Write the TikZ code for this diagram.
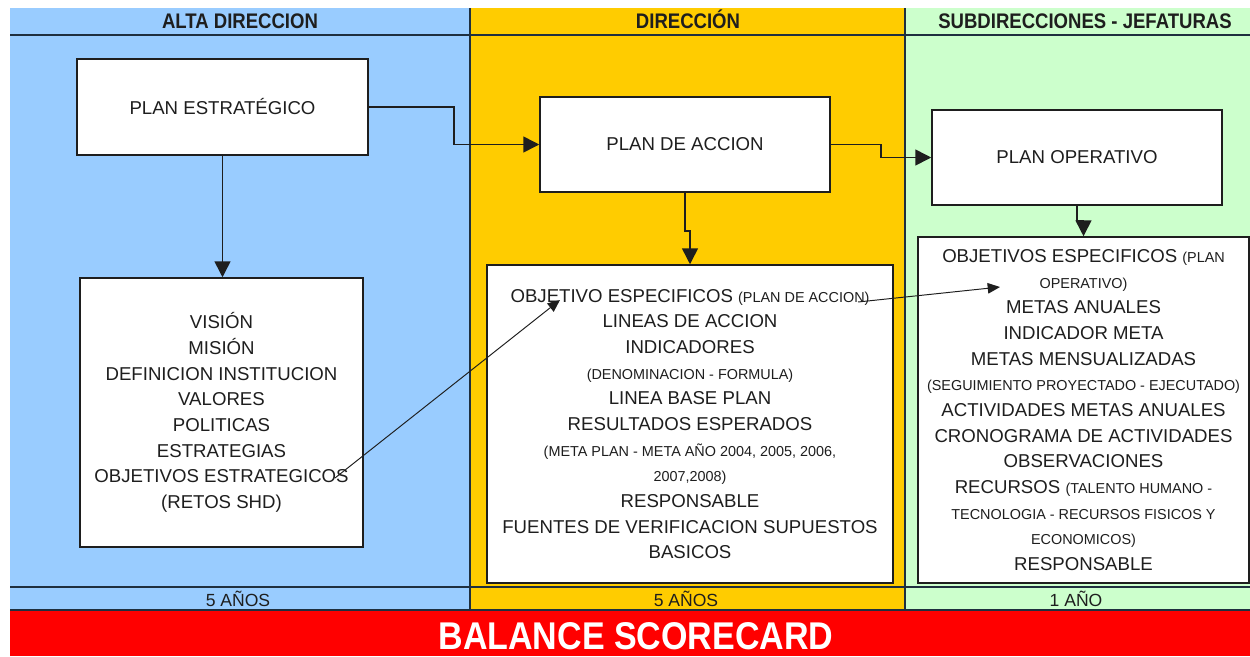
\documentclass[tikz,border=0pt]{standalone}
\usepackage{fontspec}
\setmainfont{Liberation Sans}
\newfontfamily\condfont[FakeStretch=0.88]{Liberation Sans}
\usetikzlibrary{arrows.meta,calc}
\definecolor{colblue}{HTML}{99CCFF}
\definecolor{colyel}{HTML}{FFCC00}
\definecolor{colgrn}{HTML}{CCFFCC}
\definecolor{colred}{HTML}{FF0000}
\definecolor{ink}{HTML}{1E1E1E}
\definecolor{rulecol}{HTML}{1F2F3F}
\newcommand\smtxt[1]{{\fontsize{8.2}{14.6}\selectfont #1}}
\begin{document}
\begin{tikzpicture}[x=0.02cm,y=-0.02cm,
  box/.style={draw=ink, line width=0.9pt, fill=white, align=center, inner sep=0pt,
    font=\fontsize{10.6}{14.6}\selectfont, text=ink},
  arr/.style={draw=ink, line width=0.9pt, -{Triangle[length=9pt,width=9pt]}},
  thinarr/.style={draw=ink, line width=0.55pt, -{Triangle[length=7pt,width=6pt]}},
  head/.style={font=\condfont\bfseries\fontsize{12}{14}\selectfont, text=ink, anchor=base, inner sep=0pt},
  foot/.style={font=\fontsize{10}{12}\selectfont, text=ink, anchor=base, inner sep=0pt},
  sep/.style={draw=rulecol}]
\useasboundingbox (0,0) rectangle (1250,656);
\fill[white] (0,0) rectangle (1250,656);
% columns
\fill[colblue] (10,8) rectangle (470,610);
\fill[colyel] (470,8) rectangle (905,610);
\fill[colgrn] (905,8) rectangle (1250,610);
\fill[colred] (10,610) rectangle (1250,656);
\draw[sep, line width=1.2pt] (10,35) -- (1250,35);
\draw[sep, line width=1.2pt] (10,587) -- (1250,587);
\draw[sep, line width=1pt] (10,610) -- (1250,610);
\draw[sep, line width=0.8pt] (470,8) -- (470,610);
\draw[sep, line width=0.8pt] (905,8) -- (905,610);
% headers
\node[head] (h1) at (240,28) {ALTA DIRECCION};
\node[head] (h2) at (688,28) {DIRECCIÓN};
\node[head] (h3) at (1085,28) {SUBDIRECCIONES - JEFATURAS};
% footers
\node[foot] (f1) at (238,606) {5 AÑOS};
\node[foot] (f2) at (686,606) {5 AÑOS};
\node[foot] (f3) at (1076,606) {1 AÑO};
\node[font=\condfont\bfseries\fontsize{22}{24}\selectfont, text=white] (bsc) at (636,636) {BALANCE SCORECARD};
% boxes
\node[box, minimum width=5.82cm, minimum height=1.92cm] (pe) at (222.5,107) {PLAN ESTRATÉGICO};
\node[box, minimum width=5.8cm, minimum height=1.9cm] (pa) at (685,144.5) {PLAN DE ACCION};
\node[box, minimum width=5.8cm, minimum height=1.9cm] (po) at (1077,157.5) {PLAN OPERATIVO};
\node[box, minimum width=5.66cm, minimum height=5.38cm] (lb) at (221.5,412.5) {VISIÓN\\MISIÓN\\DEFINICION INSTITUCION\\VALORES\\POLITICAS\\ESTRATEGIAS\\OBJETIVOS ESTRATEGICOS\\(RETOS SHD)};
\node[box, minimum width=8.12cm, minimum height=6.36cm] (mb) at (690,424) {OBJETIVO ESPECIFICOS \smtxt{(PLAN DE ACCION)}\\LINEAS DE ACCION\\INDICADORES\\\smtxt{(DENOMINACION - FORMULA)}\\LINEA BASE PLAN\\RESULTADOS ESPERADOS\\\smtxt{(META PLAN - META AÑO 2004, 2005, 2006,}\\\smtxt{2007,2008)}\\RESPONSABLE\\FUENTES DE VERIFICACION SUPUESTOS\\BASICOS};
\node[box, minimum width=6.62cm, minimum height=6.92cm] (rb) at (1083.5,410) {OBJETIVOS ESPECIFICOS \smtxt{(PLAN}\\\smtxt{OPERATIVO)}\\METAS ANUALES\\INDICADOR META\\METAS MENSUALIZADAS\\\smtxt{(SEGUIMIENTO PROYECTADO - EJECUTADO)}\\ACTIVIDADES METAS ANUALES\\CRONOGRAMA DE ACTIVIDADES\\OBSERVACIONES\\RECURSOS \smtxt{(TALENTO HUMANO -}\\\smtxt{TECNOLOGIA - RECURSOS FISICOS Y}\\\smtxt{ECONOMICOS)}\\RESPONSABLE};
% connectors
\draw[arr] (pe.south) -- (pe.south |- lb.north);
\draw[arr] (pe.east) -- ++(85,0) |- (pa.west);
\draw[arr] (pa.south) -- ++(0,38) -| (mb.north);
\draw[arr] (pa.east) -- ++(50,0) |- (po.west);
\draw[arr] (po.south) -- ++(0,15) -| (rb.north);
\coordinate (d1s) at (335,478);
\coordinate (d1e) at (560,300);
\coordinate (d2s) at (858,302);
\coordinate (d2e) at (1000,287);
\draw[thinarr] (d1s) -- (d1e);
\draw[thinarr] (d2s) -- (d2e);
\end{tikzpicture}
\end{document}
